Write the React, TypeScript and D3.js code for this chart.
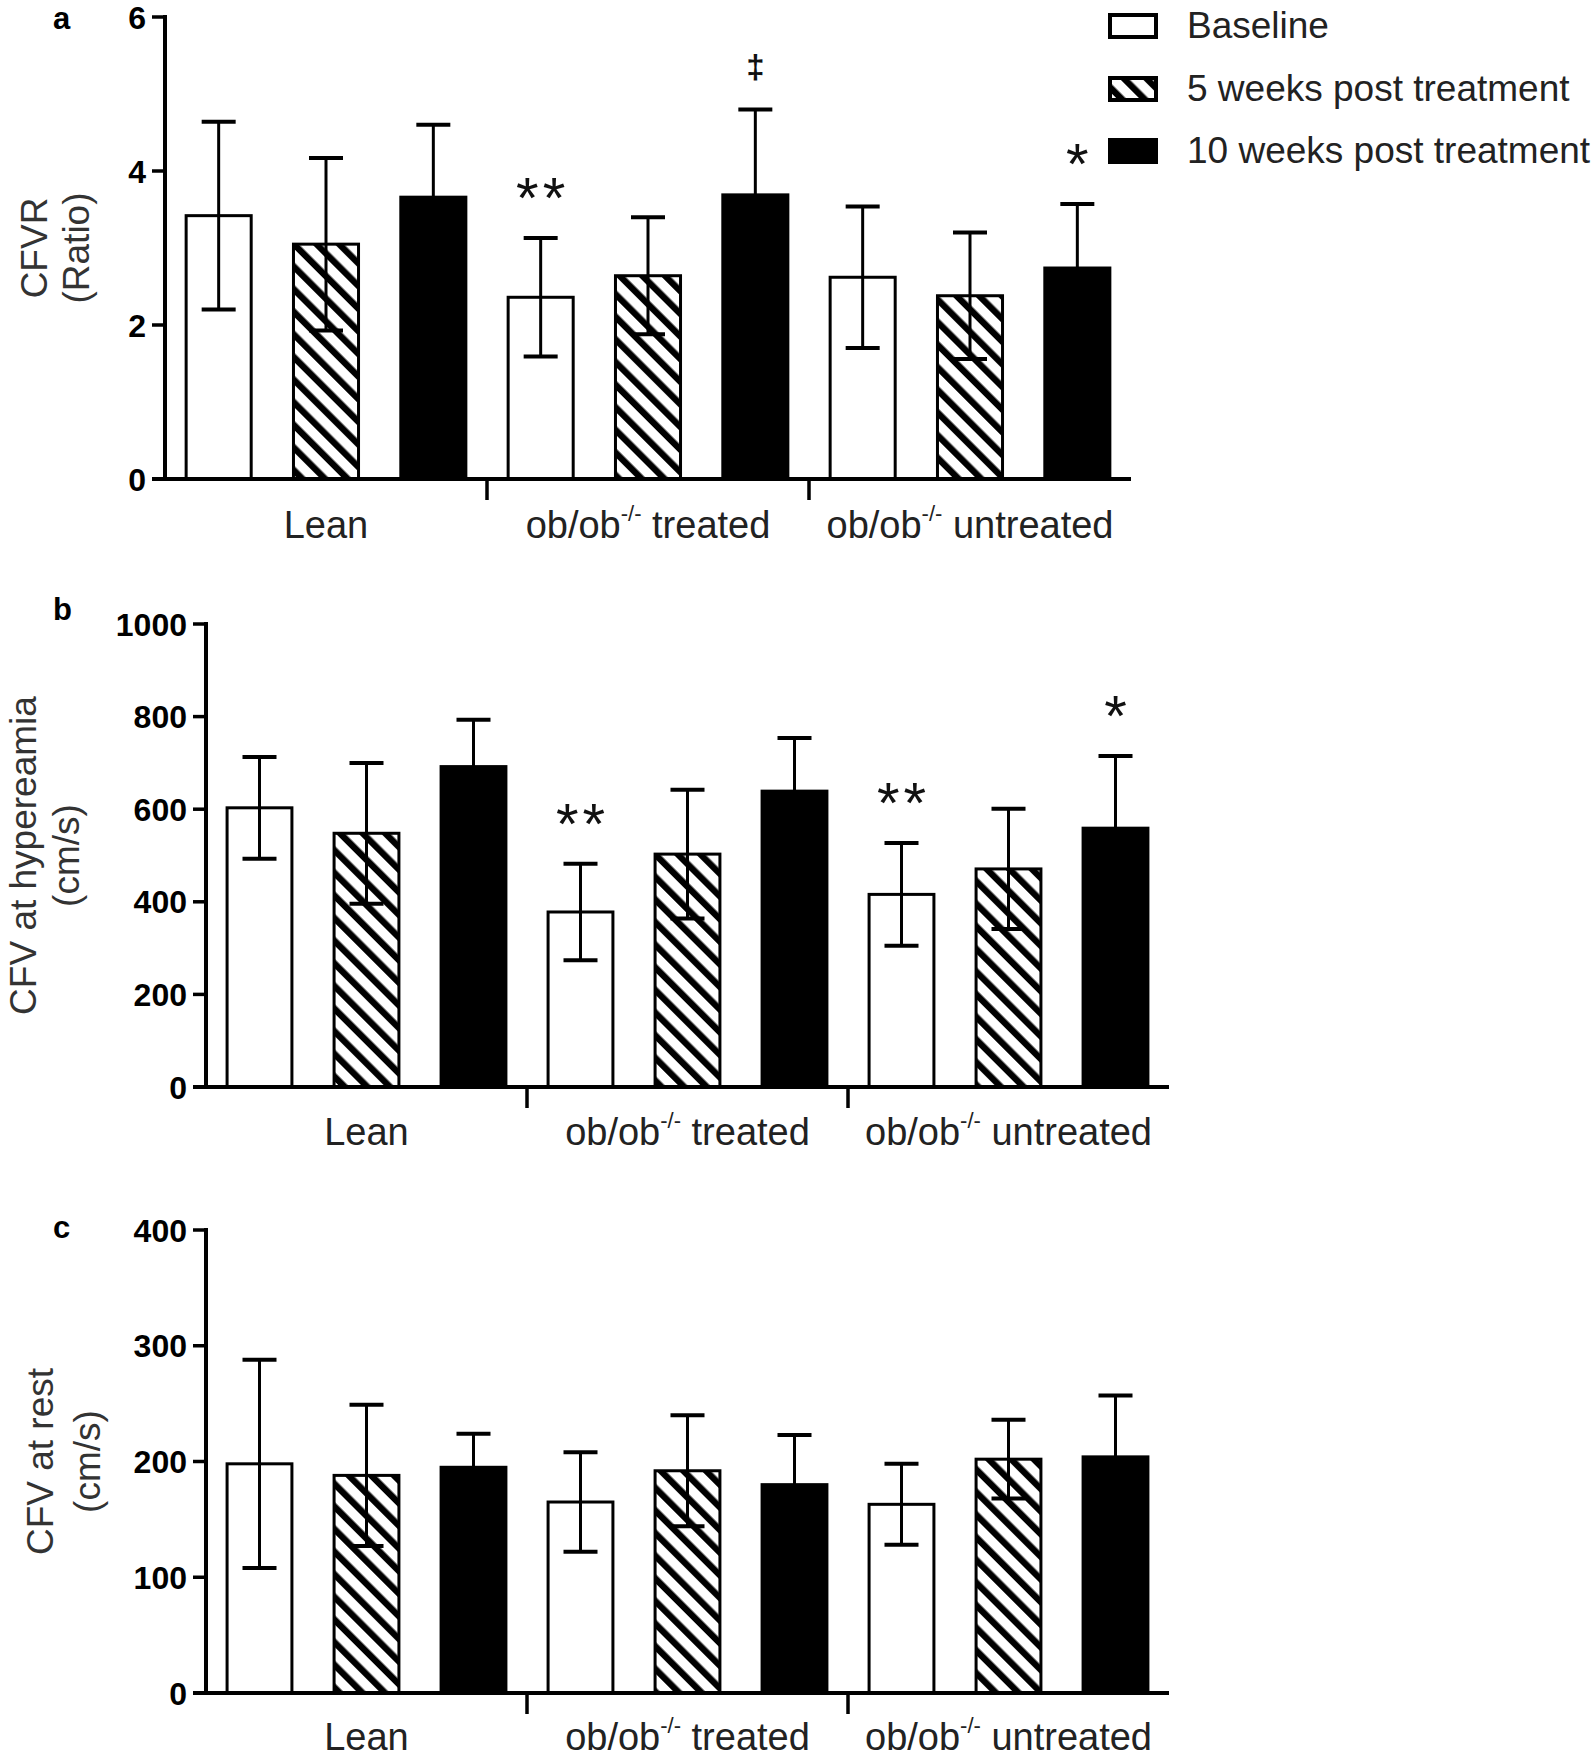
import React from "react";
import * as d3 from "d3";

// ---------- data ----------
const categories = ["Lean", "ob/ob-/- treated", "ob/ob-/- untreated"];
const series = ["Baseline", "5 weeks post treatment", "10 weeks post treatment"];

// Panel a: CFVR (ratio)  — order: group x series
const cfvrMean = [3.42, 3.05, 3.66, 2.36, 2.64, 3.69, 2.62, 2.38, 2.74];
const cfvrSD = [1.22, 1.12, 0.94, 0.77, 0.76, 1.11, 0.92, 0.82, 0.83];
const cfvrMarks = ["", "", "", "**", "", "‡", "", "", "*"];
const cfvrTicks = [0, 2, 4, 6];

// Panel b: CFV at hyperaemia (cm/s)
const hypMean = [603, 548, 692, 378, 503, 639, 416, 471, 559];
const hypSD = [110, 152, 101, 104, 139, 115, 111, 130, 156];
const hypMarks = ["", "", "", "**", "", "", "**", "", "*"];
const hypTicks = [0, 200, 400, 600, 800, 1000];

// Panel c: CFV at rest (cm/s)
const restMean = [198, 188, 195, 165, 192, 180, 163, 202, 204];
const restSD = [90, 61, 29, 43, 48, 43, 35, 34, 53];
const restMarks = ["", "", "", "", "", "", "", "", ""];
const restTicks = [0, 100, 200, 300, 400];

const FONT = "'Liberation Sans', Arial, Helvetica, sans-serif";

type Panel = {
  letter: string;
  labelLines: string[];
  mean: number[];
  sd: number[];
  marks: string[];
  ticks: number[];
  axisX: number;
  xEnd: number;
  yTop: number;
  y0: number;
  letterY: number;
  catY: number;
  yLabelX: number[];
};

const panels: Panel[] = [
  {
    letter: "a",
    labelLines: ["CFVR", "(Ratio)"],
    mean: cfvrMean,
    sd: cfvrSD,
    marks: cfvrMarks,
    ticks: cfvrTicks,
    axisX: 165,
    xEnd: 1131,
    yTop: 17,
    y0: 479,
    letterY: 29,
    catY: 538,
    yLabelX: [47, 89],
  },
  {
    letter: "b",
    labelLines: ["CFV at hypereamia", "(cm/s)"],
    mean: hypMean,
    sd: hypSD,
    marks: hypMarks,
    ticks: hypTicks,
    axisX: 206,
    xEnd: 1169,
    yTop: 624,
    y0: 1087,
    letterY: 620,
    catY: 1145,
    yLabelX: [36, 79],
  },
  {
    letter: "c",
    labelLines: ["CFV at rest", "(cm/s)"],
    mean: restMean,
    sd: restSD,
    marks: restMarks,
    ticks: restTicks,
    axisX: 206,
    xEnd: 1169,
    yTop: 1230,
    y0: 1693,
    letterY: 1238,
    catY: 1750,
    yLabelX: [53, 100],
  },
];

const seriesFill = ["#ffffff", "url(#hatch)", "#000000"];

function CatLabel({ text, x, y }: { text: string; x: number; y: number }) {
  const parts = text.split("-/-");
  if (parts.length === 1) {
    return (
      <text x={x} y={y} textAnchor="middle" fontSize={38} fontFamily={FONT} fill="#222">
        {text}
      </text>
    );
  }
  return (
    <text x={x} y={y} textAnchor="middle" fontSize={38} fontFamily={FONT} fill="#222">
      <tspan>{parts[0]}</tspan>
      <tspan fontSize={22} dy={-17}>-/-</tspan>
      <tspan dy={17}>{parts[1]}</tspan>
    </text>
  );
}

function PanelView({ p }: { p: Panel }) {
  const idx = d3.range(categories.length * series.length);
  const x = d3
    .scaleBand<number>()
    .domain(idx)
    .range([p.axisX, p.xEnd])
    .paddingInner(0.366)
    .paddingOuter(0.183);
  const maxTick = d3.max(p.ticks) as number;
  const y = d3.scaleLinear().domain([0, maxTick]).range([p.y0, p.yTop]);
  const bw = x.bandwidth();
  const step = x.step();
  const capW = 34;
  const midY = (p.yTop + p.y0) / 2;

  return (
    <g>
      {/* panel letter */}
      <text x={53} y={p.letterY} fontSize={31} fontWeight="bold" fontFamily={FONT} fill="#000">
        {p.letter}
      </text>

      {/* y label */}
      {p.labelLines.map((line, i) => (
        <text
          key={i}
          transform={`translate(${p.yLabelX[i]},${midY}) rotate(-90)`}
          textAnchor="middle"
          fontSize={37}
          fontFamily={FONT}
          fill="#333"
        >
          {line}
        </text>
      ))}

      {/* bars */}
      {idx.map((i) => {
        const si = i % series.length;
        const bx = x(i) as number;
        const v = p.mean[i];
        return (
          <rect
            key={"b" + i}
            x={bx + 1.5}
            y={y(v)}
            width={bw - 3}
            height={p.y0 - y(v)}
            fill={seriesFill[si]}
            stroke="#000"
            strokeWidth={3}
          />
        );
      })}

      {/* error bars */}
      {idx.map((i) => {
        const cx = (x(i) as number) + bw / 2;
        const hi = y(p.mean[i] + p.sd[i]);
        const lo = y(p.mean[i] - p.sd[i]);
        return (
          <g key={"e" + i} stroke="#000">
            <line x1={cx} x2={cx} y1={hi} y2={lo} strokeWidth={3} />
            <line x1={cx - capW / 2} x2={cx + capW / 2} y1={hi} y2={hi} strokeWidth={4} />
            <line x1={cx - capW / 2} x2={cx + capW / 2} y1={lo} y2={lo} strokeWidth={4} />
          </g>
        );
      })}

      {/* significance marks */}
      {idx.map((i) => {
        const m = p.marks[i];
        if (!m) return null;
        const cx = (x(i) as number) + bw / 2;
        const top = y(p.mean[i] + p.sd[i]);
        if (m === "‡") {
          return (
            <text key={"m" + i} x={cx} y={top - 31} textAnchor="middle" fontSize={33} fontWeight="bold" fontFamily={FONT} fill="#111">
              {m}
            </text>
          );
        }
        return (
          <text
            key={"m" + i}
            x={cx + (m.length > 1 ? 2 : 0)}
            y={top - 20}
            textAnchor="middle"
            fontSize={58}
            letterSpacing={m.length > 1 ? 4 : 0}
            fontFamily={FONT}
            fill="#111"
          >
            {m}
          </text>
        );
      })}

      {/* y axis */}
      <line x1={p.axisX} x2={p.axisX} y1={p.yTop - 2} y2={p.y0} stroke="#000" strokeWidth={4} />
      {p.ticks.map((t) => (
        <g key={"t" + t}>
          <line x1={p.axisX - 13} x2={p.axisX} y1={y(t)} y2={y(t)} stroke="#000" strokeWidth={3.5} />
          <text
            x={p.axisX - 19}
            y={y(t) + 11.5}
            textAnchor="end"
            fontSize={32}
            fontWeight="bold"
            fontFamily={FONT}
            fill="#000"
          >
            {t}
          </text>
        </g>
      ))}

      {/* x axis */}
      <line x1={p.axisX - 13} x2={p.xEnd} y1={p.y0} y2={p.y0} stroke="#000" strokeWidth={4} />
      {[1, 2].map((g) => {
        const gx = p.axisX + step * series.length * g;
        return <line key={"d" + g} x1={gx} x2={gx} y1={p.y0} y2={p.y0 + 21} stroke="#000" strokeWidth={3.5} />;
      })}

      {/* category labels */}
      {categories.map((c, gi) => {
        const cx = (x(gi * series.length + 1) as number) + bw / 2;
        return <CatLabel key={c} text={c} x={cx} y={p.catY} />;
      })}
    </g>
  );
}

function Legend() {
  const rowsY = [15, 78, 140];
  return (
    <g>
      {series.map((s, i) => (
        <g key={s}>
          <rect
            x={1110}
            y={rowsY[i]}
            width={46}
            height={22}
            fill={seriesFill[i]}
            stroke="#000"
            strokeWidth={4}
          />
          <text x={1187} y={rowsY[i] + 23} fontSize={37} fontFamily={FONT} fill="#222">
            {s}
          </text>
        </g>
      ))}
    </g>
  );
}

export default function App() {
  return (
    <svg
      width={1595}
      height={1759}
      viewBox="0 0 1595 1759"
      style={{ position: "absolute", left: 0, top: 0, background: "#fff" }}
    >
      <defs>
        <pattern
          id="hatch"
          patternUnits="userSpaceOnUse"
          width={16}
          height={16}
          patternTransform="rotate(-45)"
        >
          <rect x={0} y={0} width={16} height={16} fill="#fff" />
          <rect x={0} y={0} width={6.5} height={16} fill="#000" />
        </pattern>
      </defs>
      <rect x={0} y={0} width={1595} height={1759} fill="#fff" />
      {panels.map((p) => (
        <PanelView key={p.letter} p={p} />
      ))}
      <Legend />
    </svg>
  );
}
